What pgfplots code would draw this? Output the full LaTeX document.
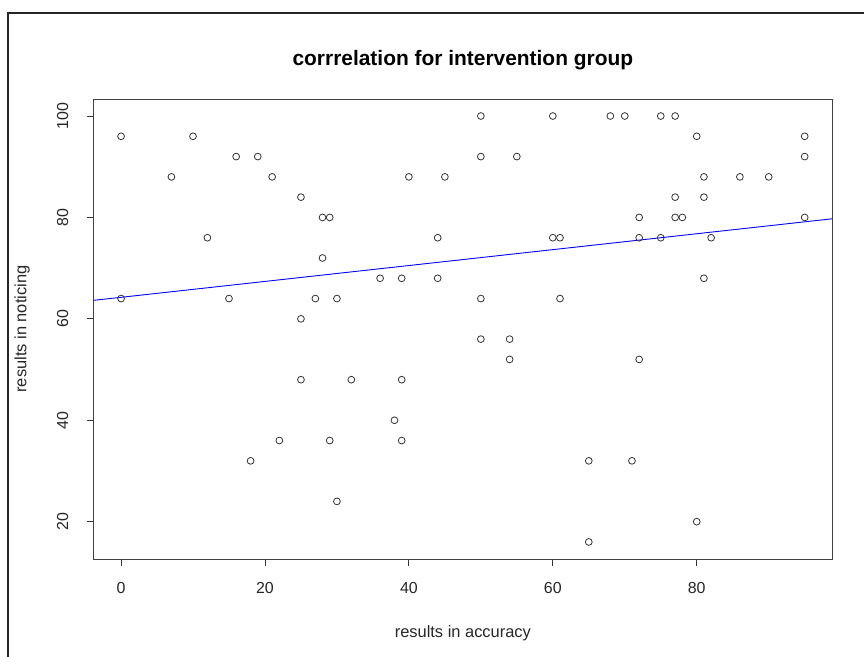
\documentclass[border=0pt]{standalone}
\usepackage{fontspec}
\setmainfont{Liberation Sans}
\usepackage{pgfplots}
\pgfplotsset{compat=1.18}
\begin{document}
\begin{tikzpicture}[x=1bp,y=1bp]
\useasboundingbox (0,0) rectangle (864,657);
\draw[line width=2bp, black!85] (8,-5) -- (8,643.5) -- (870,643.5);
\begin{axis}[
  at={(93.7bp,98bp)}, anchor=south west,
  scale only axis, width=738.3bp, height=460bp,
  xmin=-3.8, xmax=98.8, ymin=12.64, ymax=103.36,
  xtick={0,20,40,60,80}, ytick={20,40,60,80,100},
  xtick pos=bottom, ytick pos=left,
  tick align=outside, major tick length=7bp,
  tick style={black!80, line width=0.8bp},
  axis line style={black!75, line width=0.9bp},
  /pgf/number format/assume math mode=true,
  ticklabel style={font=\fontsize{16}{18}\selectfont, text=black!85},
  xticklabel style={yshift=-13bp},
  yticklabel style={rotate=90, anchor=south, yshift=15bp},
  title={\textbf{corrrelation for intervention group}},
  title style={at={(rel axis cs:0.5,1.0606)}, anchor=base, font=\fontsize{21}{24}\selectfont},
  xlabel={results in accuracy},
  ylabel={results in noticing},
  xlabel style={at={(rel axis cs:0.5,-0.1717)}, anchor=base, font=\fontsize{16.5}{19}\selectfont, text=black!85},
  ylabel style={at={(rel axis cs:-0.0971,0.5)}, anchor=center, font=\fontsize{16.5}{19}\selectfont, text=black!85},
  clip=true,
]
\addplot[only marks, mark=o, mark size=3.4bp, mark options={line width=0.8bp, draw=black!80}] coordinates {
(0,96) (0,64) (7,88) (10,96) (12,76) (15,64) (16,92) (18,32) (19,92) (21,88)
(22,36) (25,84) (25,60) (25,48) (27,64) (28,80) (28,72) (29,80) (29,36) (30,64)
(30,24) (32,48) (36,68) (38,40) (39,68) (39,48) (39,36) (40,88) (44,76) (44,68)
(45,88) (50,100) (50,92) (50,64) (50,56) (54,56) (54,52) (55,92) (60,100) (60,76)
(61,76) (61,64) (65,32) (65,16) (68,100) (70,100) (71,32) (72,80) (72,76) (72,52)
(75,100) (75,76) (77,100) (77,84) (77,80) (78,80) (80,96) (80,20) (81,88) (81,84)
(81,68) (82,76) (86,88) (90,88) (95,96) (95,92) (95,80)
};
\addplot[blue, line width=0.9bp] coordinates {(-3.8,63.65) (98.8,79.73)};
\end{axis}
\end{tikzpicture}
\end{document}
